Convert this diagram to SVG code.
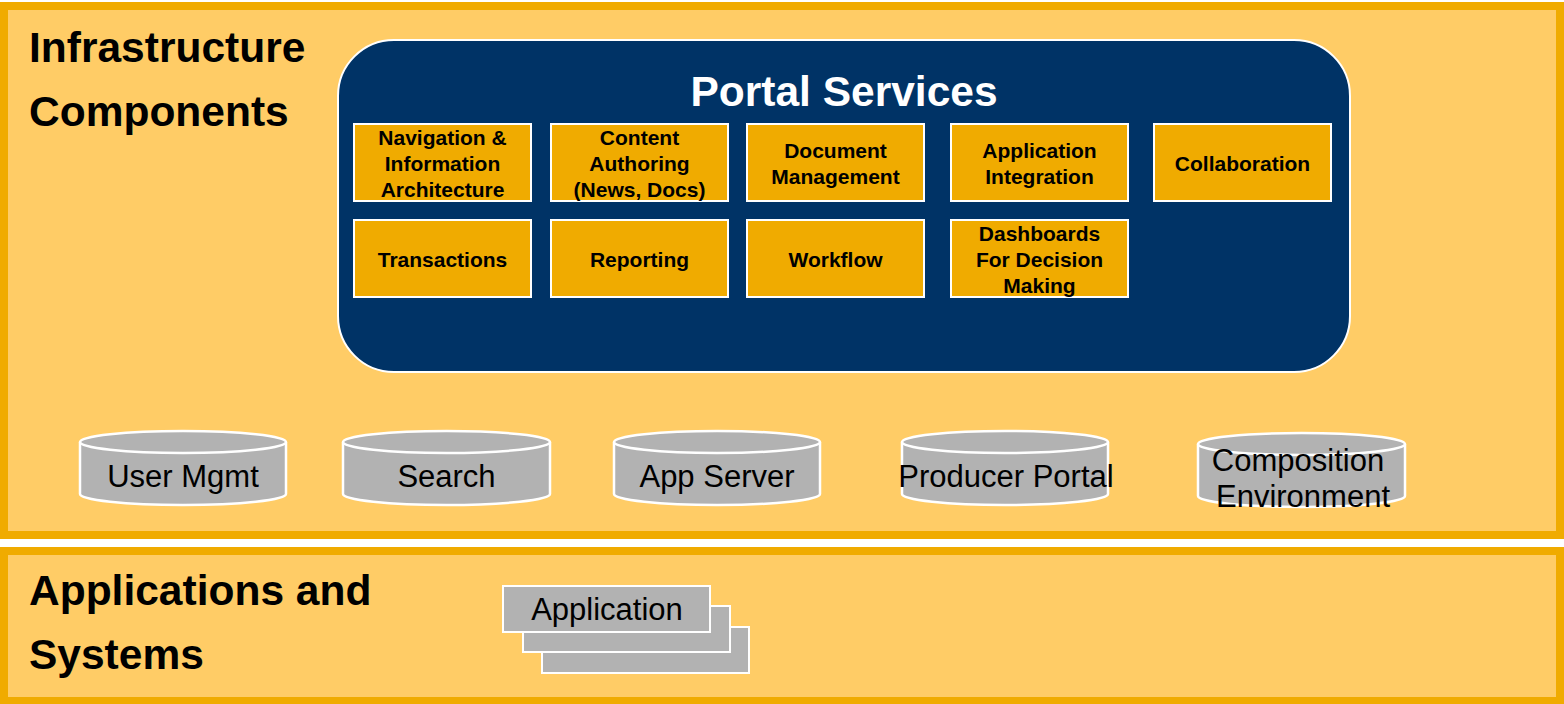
<svg xmlns="http://www.w3.org/2000/svg" width="1564" height="704" viewBox="0 0 1564 704">
<style>
.panel{fill:#FFCC66;stroke:#F0AB00;stroke-width:8}
.title{font-family:"Liberation Sans",Arial,sans-serif;font-weight:bold;font-size:42.5px;fill:#000}
.svc{fill:#F0AB00;stroke:#fff;stroke-width:2}
.svct{font-family:"Liberation Sans",Arial,sans-serif;font-weight:bold;font-size:21px;fill:#000;text-anchor:middle}
.cyl{fill:#B2B2B2;stroke:#fff;stroke-width:2.5}
.cylt{font-family:"Liberation Sans",Arial,sans-serif;font-size:31px;fill:#000;text-anchor:middle}
.app{fill:#B2B2B2;stroke:#fff;stroke-width:2}
</style>
<rect width="1564" height="704" fill="#fff"/>
<g id="infrastructure">
<rect class="panel" x="4" y="6" width="1556" height="529"/>
<text class="title" x="29" y="62">Infrastructure</text>
<text class="title" x="29" y="126">Components</text>
</g>
<g id="applications">
<rect class="panel" x="4" y="551" width="1556" height="150"/>
<text class="title" x="29" y="605">Applications and</text>
<text class="title" x="29" y="669">Systems</text>
</g>
<g id="portal-services">
<rect x="338" y="40" width="1012" height="332" rx="56" ry="56" fill="#003366" stroke="#fff" stroke-width="2"/>
<text x="844" y="106" font-family="'Liberation Sans',Arial,sans-serif" font-weight="bold" font-size="42.5" fill="#fff" text-anchor="middle">Portal Services</text>
</g>
<g id="svc-navigation"><rect class="svc" x="354" y="124" width="177" height="77"/>
<text class="svct"><tspan x="442.5" y="145">Navigation &amp;</tspan><tspan x="442.5" y="171">Information</tspan><tspan x="442.5" y="197">Architecture</tspan></text></g>
<g id="svc-content"><rect class="svc" x="551" y="124" width="177" height="77"/>
<text class="svct"><tspan x="639.5" y="145">Content</tspan><tspan x="639.5" y="171">Authoring</tspan><tspan x="639.5" y="197">(News, Docs)</tspan></text></g>
<g id="svc-document"><rect class="svc" x="747" y="124" width="177" height="77"/>
<text class="svct"><tspan x="835.5" y="158">Document</tspan><tspan x="835.5" y="184">Management</tspan></text></g>
<g id="svc-appint"><rect class="svc" x="951" y="124" width="177" height="77"/>
<text class="svct"><tspan x="1039.5" y="158">Application</tspan><tspan x="1039.5" y="184">Integration</tspan></text></g>
<g id="svc-collab"><rect class="svc" x="1154" y="124" width="177" height="77"/>
<text class="svct" x="1242.5" y="171">Collaboration</text></g>
<g id="svc-transactions"><rect class="svc" x="354" y="220" width="177" height="77"/>
<text class="svct" x="442.5" y="267">Transactions</text></g>
<g id="svc-reporting"><rect class="svc" x="551" y="220" width="177" height="77"/>
<text class="svct" x="639.5" y="267">Reporting</text></g>
<g id="svc-workflow"><rect class="svc" x="747" y="220" width="177" height="77"/>
<text class="svct" x="835.5" y="267">Workflow</text></g>
<g id="svc-dashboards"><rect class="svc" x="951" y="220" width="177" height="77"/>
<text class="svct"><tspan x="1039.5" y="241">Dashboards</tspan><tspan x="1039.5" y="267">For Decision</tspan><tspan x="1039.5" y="293">Making</tspan></text></g>
<g id="cyl-usermgmt">
<path class="cyl" d="M80,442 V494 A103,11 0 0 0 286,494 V442 A103,11 0 0 0 80,442 Z"/>
<path class="cyl" d="M80,442 A103,11 0 0 0 286,442" fill="none"/>
<text class="cylt" x="183" y="487">User Mgmt</text></g>
<g id="cyl-search">
<path class="cyl" d="M343,442 V494 A103.5,11 0 0 0 550,494 V442 A103.5,11 0 0 0 343,442 Z"/>
<path class="cyl" d="M343,442 A103.5,11 0 0 0 550,442" fill="none"/>
<text class="cylt" x="446.5" y="487">Search</text></g>
<g id="cyl-appserver">
<path class="cyl" d="M614,442 V494 A103,11 0 0 0 820,494 V442 A103,11 0 0 0 614,442 Z"/>
<path class="cyl" d="M614,442 A103,11 0 0 0 820,442" fill="none"/>
<text class="cylt" x="717" y="487">App Server</text></g>
<g id="cyl-producer">
<path class="cyl" d="M902,442 V494 A103,11 0 0 0 1108,494 V442 A103,11 0 0 0 902,442 Z"/>
<path class="cyl" d="M902,442 A103,11 0 0 0 1108,442" fill="none"/>
<text class="cylt" x="1006" y="487">Producer Portal</text></g>
<g id="cyl-composition">
<path class="cyl" d="M1198,444 V496 A103.5,11 0 0 0 1405,496 V444 A103.5,11 0 0 0 1198,444 Z"/>
<path class="cyl" d="M1198,444 A103.5,11 0 0 0 1405,444" fill="none"/>
<text class="cylt"><tspan x="1298" y="471">Composition</tspan><tspan x="1303" y="507">Environment</tspan></text></g>
<g id="app-stack">
<rect class="app" x="542" y="627" width="207" height="46"/>
<rect class="app" x="523" y="606" width="207" height="46"/>
<rect class="app" x="503" y="586" width="207" height="46"/>
<text class="cylt" x="607" y="620">Application</text></g>
<g id="connectors"></g>
</svg>
